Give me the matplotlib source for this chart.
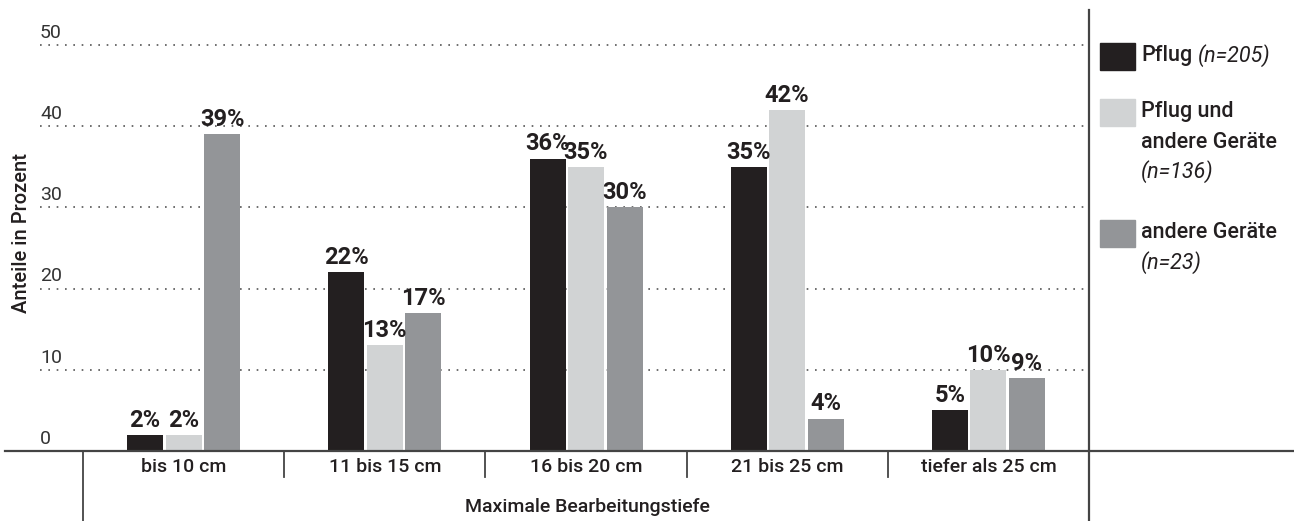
import numpy as np
import matplotlib
matplotlib.use('Agg')
import matplotlib.pyplot as plt
from matplotlib.lines import Line2D
from matplotlib.transforms import blended_transform_factory

plt.rcParams['font.family'] = ['Roboto', 'DejaVu Sans']

# Daten
categories = ['bis 10 cm', '11 bis 15 cm', '16 bis 20 cm', '21 bis 25 cm', 'tiefer als 25 cm']
pflug = [2, 22, 36, 35, 5]
pflug_und = [2, 13, 35, 42, 10]
andere = [39, 17, 30, 4, 9]
series = [pflug, pflug_und, andere]
colors = ['#231f20', '#d1d3d4', '#939598']
yticks = [0, 10, 20, 30, 40, 50]

W, H = 1294, 521
fig = plt.figure(figsize=(W / 100, H / 100), dpi=100)

# Achse: x von 83 bis 1089 px, y=0 bei 451 px, y=50 bei 45 px
ax = fig.add_axes([83 / W, (H - 451) / H, (1089 - 83) / W, (451 - 45) / H])
ax.set_xlim(-0.5, len(categories) - 0.5)
ax.set_ylim(0, 50)
ax.axis('off')

def fx(px):
    return px / W

def fy(py):
    return (H - py) / H

txt = '#231f20'

# Gitterlinien (gepunktet)
tr = blended_transform_factory(fig.transFigure, ax.transData)
for t in yticks[1:]:
    ax.plot([fx(40), fx(1089)], [t, t], transform=tr, color='#555555',
            linestyle=(0, (1, 4)), linewidth=1.2, clip_on=False, zorder=1)
for t in yticks:
    ax.text(fx(40), t + 0.4, str(t), transform=tr, fontsize=14,
            color='#333333', ha='left', va='bottom')

# Balken
bw = 36 / 201.2
step = 38.5 / 201.2
x = np.arange(len(categories))
for i, (vals, c) in enumerate(zip(series, colors)):
    xs = x + (i - 1) * step
    ax.bar(xs, vals, width=bw, color=c, edgecolor='none', zorder=3)
    for xi, v in zip(xs, vals):
        ax.text(xi, v + 0.4, f'{v}%', ha='center', va='bottom',
                fontsize=17, fontweight='bold', color=txt, zorder=4)

# Linien
lc = '#444444'
fig.add_artist(Line2D([fx(5), 1], [fy(451), fy(451)], color=lc, lw=1.6))
fig.add_artist(Line2D([fx(1089), fx(1089)], [fy(10), 0], color=lc, lw=1.6))
fig.add_artist(Line2D([fx(83), fx(83)], [fy(451), 0], color=lc, lw=1.3))
for k in range(1, len(categories)):
    xp = ax.transData.transform((k - 0.5, 0))[0] / W
    fig.add_artist(Line2D([xp, xp], [fy(451), fy(477)], color=lc, lw=1.3))

# Kategorien
for xi, cat in zip(x, categories):
    xp = ax.transData.transform((xi, 0))[0] / W
    fig.text(xp, fy(467), cat, ha='center', va='center', fontsize=14,
             fontweight='medium', color=txt)

fig.text(fx(587), fy(507), 'Maximale Bearbeitungstiefe', ha='center', va='center',
         fontsize=14, fontweight='medium', color=txt)
fig.text(fx(22), fy(233), 'Anteile in Prozent', ha='center', va='center',
         rotation=90, fontsize=14.5, fontweight='medium', color=txt)

# Legende
legend_items = [
    (['Pflug'], '(n=205)', 56, True),
    (['Pflug und', 'andere Geräte'], '(n=136)', 112, False),
    (['andere Geräte'], '(n=23)', 233, False),
]
box_tops = [43, 99, 220]
for (lines, n, ytop, inline), c, bt in zip(legend_items, colors, box_tops):
    fig.add_artist(plt.Rectangle((fx(1100), fy(bt + 27)), 35 / W, 27 / H,
                                 color=c, transform=fig.transFigure))
    yy = ytop
    last = None
    for ln in lines:
        last = fig.text(fx(1141), fy(yy), ln, ha='left', va='center',
                        fontsize=15.5, fontweight='medium', color=txt)
        yy += 30
    if inline:
        ax.annotate(n, xy=(1, 0.5), xycoords=last, xytext=(4, 0),
                    textcoords='offset points', ha='left', va='center',
                    fontsize=15.5, style='italic', color=txt)
    else:
        fig.text(fx(1141), fy(yy), n, ha='left', va='center',
                 fontsize=15.5, style='italic', color=txt)

fig.savefig('out.png', dpi=100)
